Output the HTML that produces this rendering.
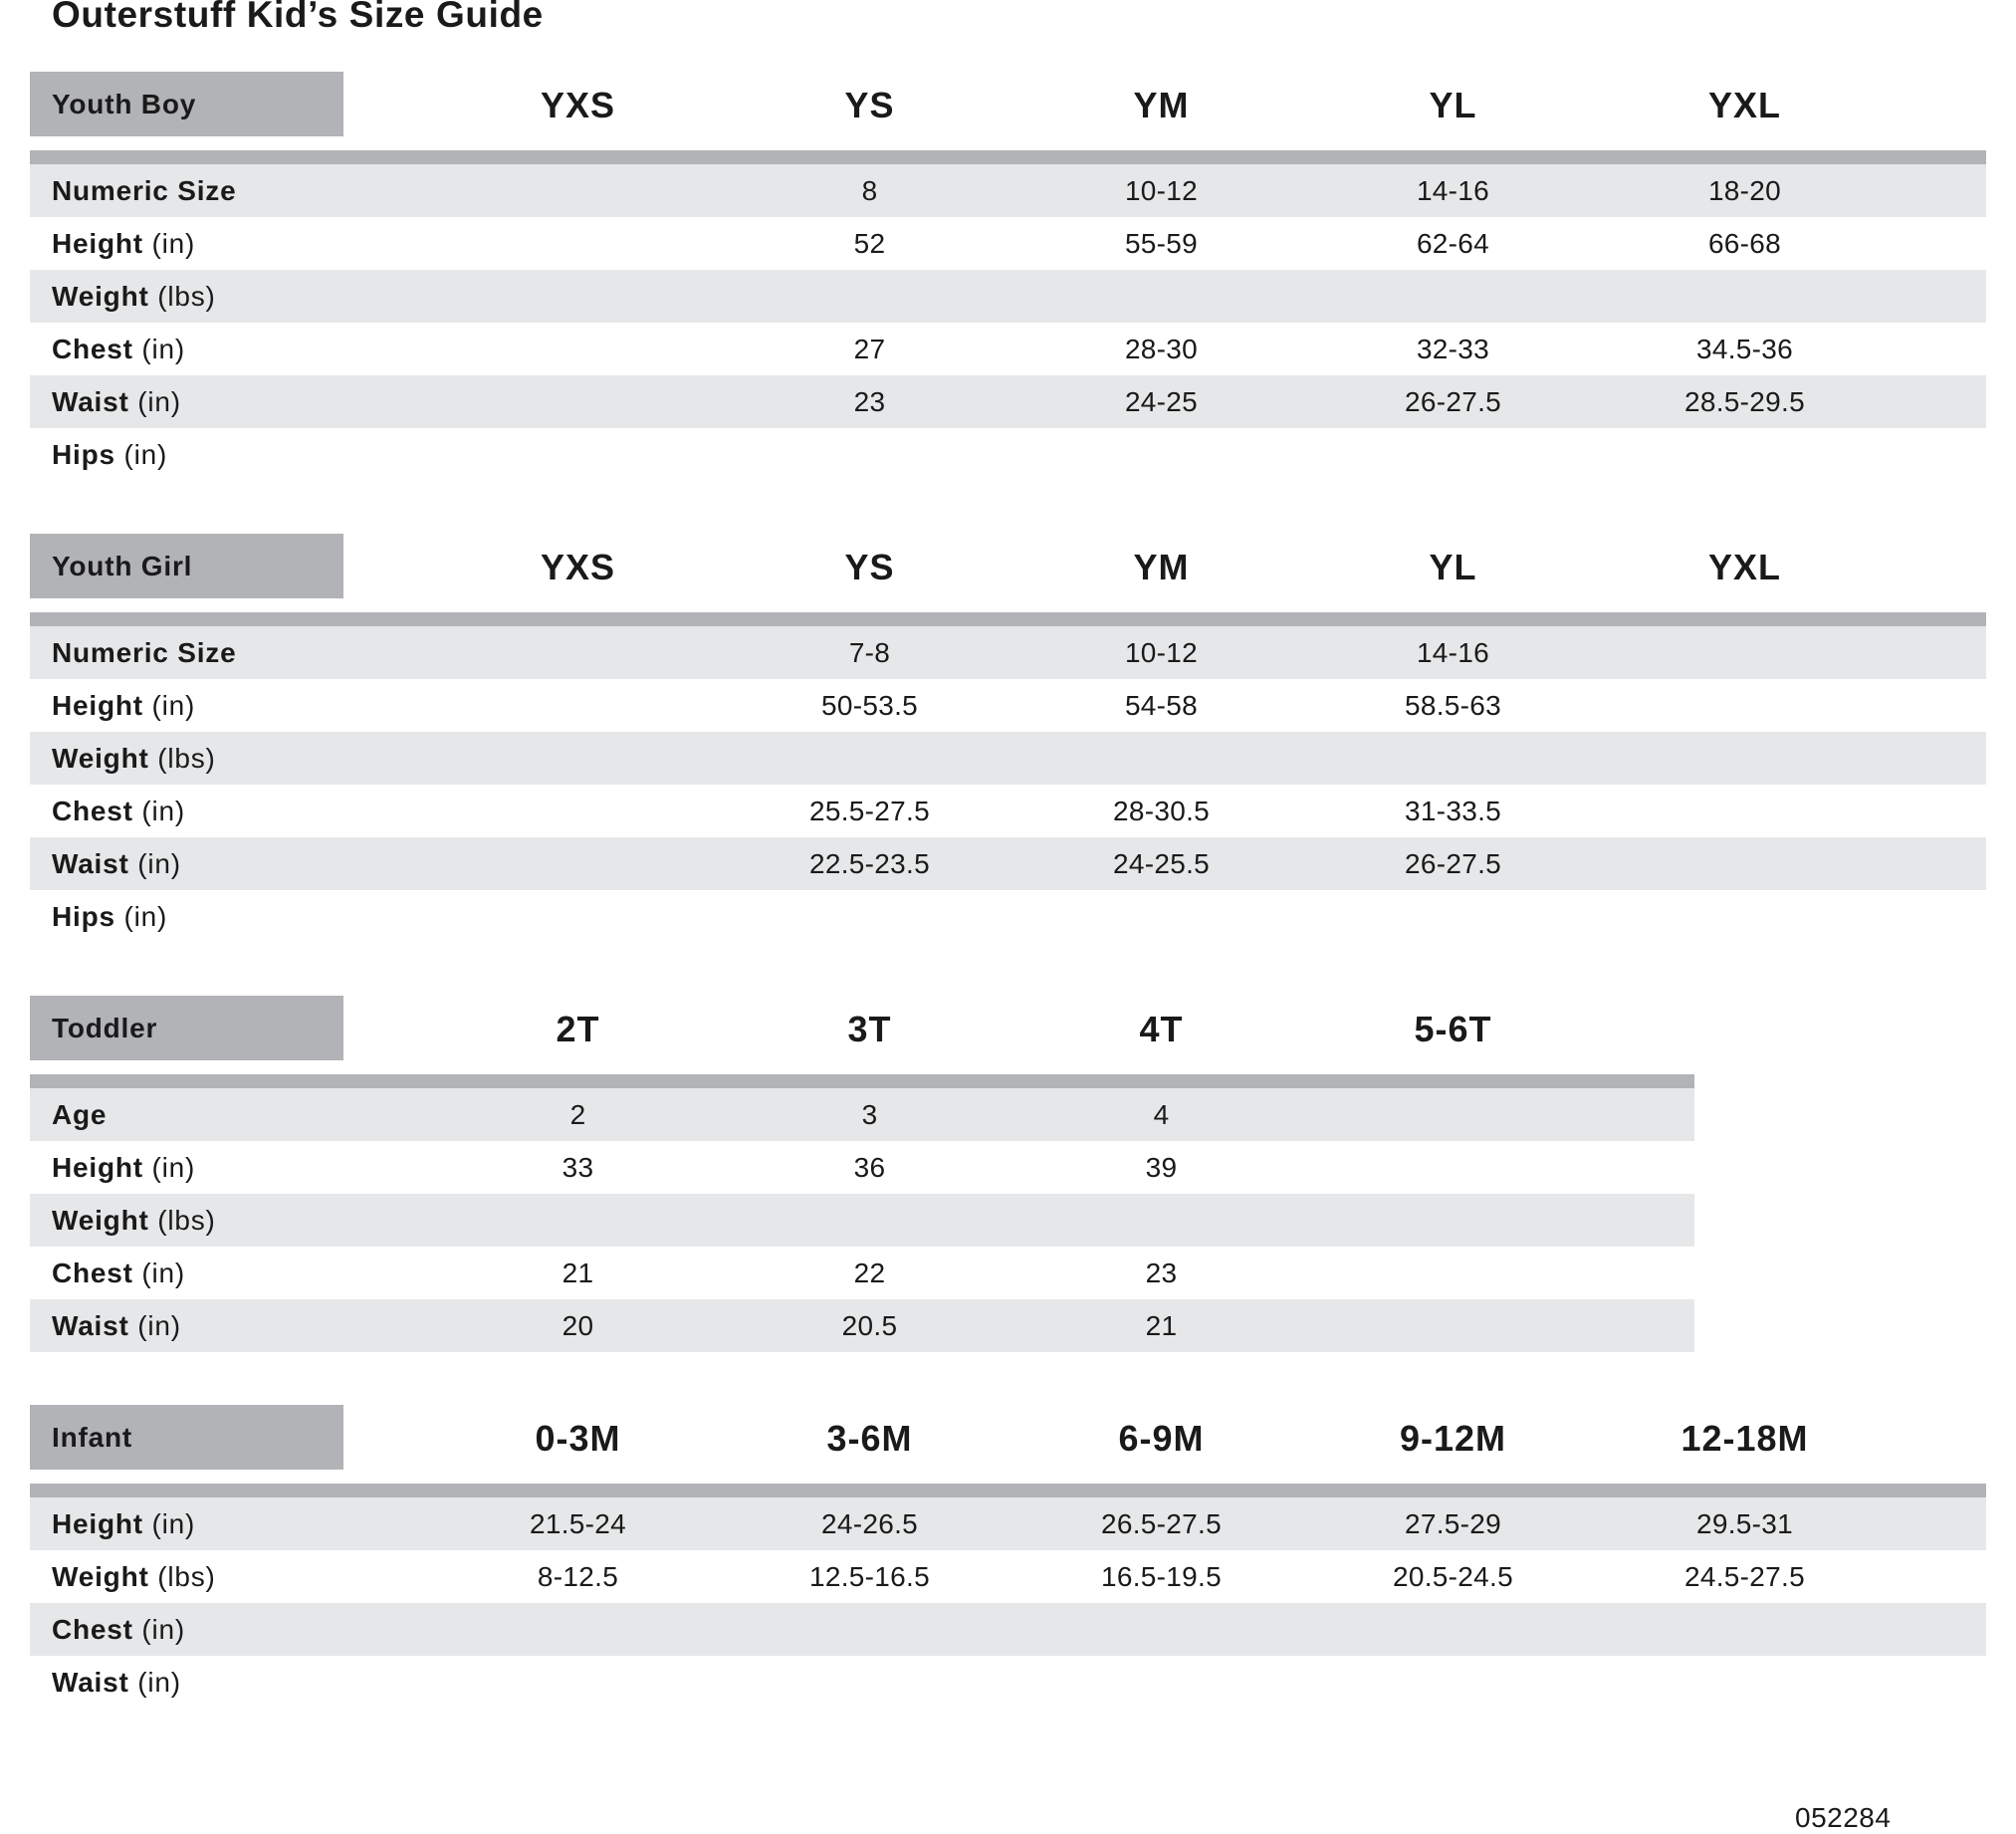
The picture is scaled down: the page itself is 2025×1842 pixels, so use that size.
<!DOCTYPE html>
<html><head><meta charset="utf-8"><style>
*{margin:0;padding:0;box-sizing:border-box}
body{width:2025px;height:1838px;background:#fff;position:relative;overflow:hidden;font-family:"Liberation Sans",sans-serif;color:#1a1a1a}
.t{position:absolute;left:52px;top:-6px;font-size:37px;font-weight:bold;letter-spacing:0.6px}
.s{position:absolute;left:30px;width:1965px}
.hb{position:absolute;left:0;top:0;width:315px;height:65px;background:#b1b3b6;font-weight:bold;font-size:28px;line-height:65px;padding-left:22px;letter-spacing:0.8px}
.hc{position:absolute;top:0;height:65px;line-height:67px;font-size:36px;font-weight:bold;width:293px;text-align:center;letter-spacing:1px}
.bar{position:absolute;left:0;top:79px;height:14px;background:#b1b3b6}
.rows{position:absolute;left:0;top:93px}
.r{height:53px;display:flex;align-items:center;font-size:28px}
.r.g{background:#e6e7e8}
.l{width:404px;padding-left:22px;letter-spacing:0.8px}
.l b{font-weight:bold}
.v{width:293px;text-align:center;font-weight:normal;letter-spacing:0.3px}
.ft{position:absolute;left:1803px;top:1810px;font-size:28px;letter-spacing:0.5px}
</style></head><body>
<div class="t">Outerstuff Kid’s Size Guide</div>

<div class="s" style="top:72px">
<div class="hb">Youth Boy</div>
<div class="hc" style="left:404px">YXS</div><div class="hc" style="left:697px">YS</div><div class="hc" style="left:990px">YM</div><div class="hc" style="left:1283px">YL</div><div class="hc" style="left:1576px">YXL</div>
<div class="bar" style="width:1965px"></div>
<div class="rows" style="width:1965px">
<div class="r g"><div class="l"><b>Numeric Size</b></div><div class="v"></div><div class="v">8</div><div class="v">10-12</div><div class="v">14-16</div><div class="v">18-20</div></div>
<div class="r"><div class="l"><b>Height</b> (in)</div><div class="v"></div><div class="v">52</div><div class="v">55-59</div><div class="v">62-64</div><div class="v">66-68</div></div>
<div class="r g"><div class="l"><b>Weight</b> (lbs)</div></div>
<div class="r"><div class="l"><b>Chest</b> (in)</div><div class="v"></div><div class="v">27</div><div class="v">28-30</div><div class="v">32-33</div><div class="v">34.5-36</div></div>
<div class="r g"><div class="l"><b>Waist</b> (in)</div><div class="v"></div><div class="v">23</div><div class="v">24-25</div><div class="v">26-27.5</div><div class="v">28.5-29.5</div></div>
<div class="r"><div class="l"><b>Hips</b> (in)</div></div>
</div></div>

<div class="s" style="top:536px">
<div class="hb">Youth Girl</div>
<div class="hc" style="left:404px">YXS</div><div class="hc" style="left:697px">YS</div><div class="hc" style="left:990px">YM</div><div class="hc" style="left:1283px">YL</div><div class="hc" style="left:1576px">YXL</div>
<div class="bar" style="width:1965px"></div>
<div class="rows" style="width:1965px">
<div class="r g"><div class="l"><b>Numeric Size</b></div><div class="v"></div><div class="v">7-8</div><div class="v">10-12</div><div class="v">14-16</div></div>
<div class="r"><div class="l"><b>Height</b> (in)</div><div class="v"></div><div class="v">50-53.5</div><div class="v">54-58</div><div class="v">58.5-63</div></div>
<div class="r g"><div class="l"><b>Weight</b> (lbs)</div></div>
<div class="r"><div class="l"><b>Chest</b> (in)</div><div class="v"></div><div class="v">25.5-27.5</div><div class="v">28-30.5</div><div class="v">31-33.5</div></div>
<div class="r g"><div class="l"><b>Waist</b> (in)</div><div class="v"></div><div class="v">22.5-23.5</div><div class="v">24-25.5</div><div class="v">26-27.5</div></div>
<div class="r"><div class="l"><b>Hips</b> (in)</div></div>
</div></div>

<div class="s" style="top:1000px">
<div class="hb">Toddler</div>
<div class="hc" style="left:404px">2T</div><div class="hc" style="left:697px">3T</div><div class="hc" style="left:990px">4T</div><div class="hc" style="left:1283px">5-6T</div>
<div class="bar" style="width:1672px"></div>
<div class="rows" style="width:1672px">
<div class="r g"><div class="l"><b>Age</b></div><div class="v">2</div><div class="v">3</div><div class="v">4</div></div>
<div class="r"><div class="l"><b>Height</b> (in)</div><div class="v">33</div><div class="v">36</div><div class="v">39</div></div>
<div class="r g"><div class="l"><b>Weight</b> (lbs)</div></div>
<div class="r"><div class="l"><b>Chest</b> (in)</div><div class="v">21</div><div class="v">22</div><div class="v">23</div></div>
<div class="r g"><div class="l"><b>Waist</b> (in)</div><div class="v">20</div><div class="v">20.5</div><div class="v">21</div></div>
</div></div>

<div class="s" style="top:1411px">
<div class="hb">Infant</div>
<div class="hc" style="left:404px">0-3M</div><div class="hc" style="left:697px">3-6M</div><div class="hc" style="left:990px">6-9M</div><div class="hc" style="left:1283px">9-12M</div><div class="hc" style="left:1576px">12-18M</div>
<div class="bar" style="width:1965px"></div>
<div class="rows" style="width:1965px">
<div class="r g"><div class="l"><b>Height</b> (in)</div><div class="v">21.5-24</div><div class="v">24-26.5</div><div class="v">26.5-27.5</div><div class="v">27.5-29</div><div class="v">29.5-31</div></div>
<div class="r"><div class="l"><b>Weight</b> (lbs)</div><div class="v">8-12.5</div><div class="v">12.5-16.5</div><div class="v">16.5-19.5</div><div class="v">20.5-24.5</div><div class="v">24.5-27.5</div></div>
<div class="r g"><div class="l"><b>Chest</b> (in)</div></div>
<div class="r"><div class="l"><b>Waist</b> (in)</div></div>
</div></div>

<div class="ft">052284</div>
</body></html>
